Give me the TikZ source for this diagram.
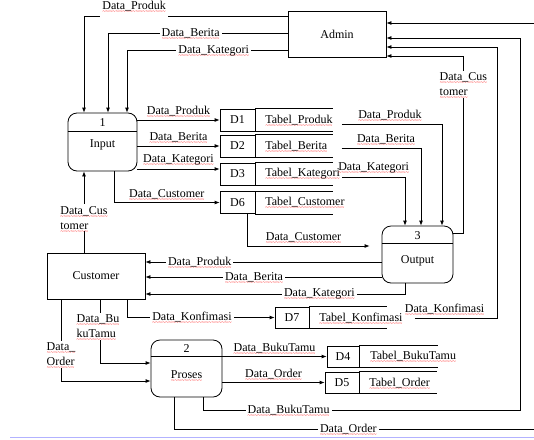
\documentclass[tikz,border=0pt]{standalone}
\usepackage{fontspec}
\setmainfont{Liberation Serif}
\usetikzlibrary{arrows.meta}
\newsavebox\sqbox
\newcommand\sq[1]{\sbox\sqbox{#1}\rlap{\textcolor{red}{\raisebox{-4pt}[0pt][0pt]{\hbox to\wd\sqbox{\fontsize{6}{6}\selectfont\xleaders\hbox{\char"7E}\hfill}}}}\usebox\sqbox}
\begin{document}
\begin{tikzpicture}[x=1pt,y=-1pt,font=\fontsize{12}{15}\selectfont,line width=0.8pt,
    flow/.style={draw,-{Latex[length=5pt,width=4pt]}},
    lbl/.style={fill=white,inner sep=2pt},
    ent/.style={draw,minimum width=98pt,minimum height=46pt},
    proc/.style={draw,rounded corners=9pt,minimum width=71pt,minimum height=57pt},
    dbox/.style={draw,minimum width=35pt,minimum height=22pt,inner sep=0pt},
    tbl/.style={anchor=west,inner sep=2pt}]
    \path[use as bounding box,clip] (0,0) rectangle (534,439);
    % entitas
    \node[ent] (admin) at (337,34) {Admin};
    \node[ent] (customer) at (96,276) {Customer};
    % proses
    \node[proc,minimum width=69pt,minimum height=58pt] (p1) at (102.5,142) {};
    \draw ([yshift=-19pt]p1.north west) -- ([yshift=-19pt]p1.north east);
    \node (n1) at (102.5,123) {1};
    \node (i1) at (102.5,145) {Input};
    \node[proc] (p2) at (186.5,368.5) {};
    \draw ([yshift=-17pt]p2.north west) -- ([yshift=-17pt]p2.north east);
    \node (n2) at (186.5,349) {2};
    \node (i2) at (186.5,375) {\sq{Proses}};
    \node[proc] (p3) at (417.5,254.5) {};
    \draw ([yshift=-18pt]p3.north west) -- ([yshift=-18pt]p3.north east);
    \node (n3) at (417.5,236) {3};
    \node (i3) at (417.5,261) {Output};
    % data store
    \node[dbox] (d1) at (237.5,120) {D1};
    \draw (d1.north east) -- ++(78,0) (d1.south east) -- ++(78,0);
    \node[tbl] (t1) at (263,120) {\sq{Tabel\_Produk}};
    \node[dbox] (d2) at (237.5,146) {D2};
    \draw (d2.north east) -- ++(78,0) (d2.south east) -- ++(78,0);
    \node[tbl] (t2) at (263,146) {\sq{Tabel\_Berita}};
    \node[dbox] (d3) at (237.5,174) {D3};
    \draw (d3.north east) -- ++(78,0) (d3.south east) -- ++(78,0);
    \node[tbl] (t3) at (263,174) {\sq{Tabel\_Kategori}};
    \node[dbox] (d6) at (237.5,202.5) {D6};
    \draw (d6.north east) -- ++(78,0) (d6.south east) -- ++(78,0);
    \node[tbl] (t6) at (263,202.5) {\sq{Tabel\_Customer}};
    \node[dbox,minimum width=34pt,minimum height=21pt] (d7) at (292,317.5) {D7};
    \draw (d7.north east) -- ++(78,0) (d7.south east) -- ++(78,0);
    \node[tbl] (t7) at (317,318) {\sq{Tabel\_Konfimasi}};
    \node[dbox,minimum width=32pt,minimum height=21pt] (d4) at (343,356.5) {D4};
    \draw (d4.north east) -- ++(79,0) (d4.south east) -- ++(79,0);
    \node[tbl] (t4) at (368,356.5) {\sq{Tabel\_BukuTamu}};
    \node[dbox,minimum width=34pt,minimum height=21pt] (d5) at (342,382.5) {D5};
    \draw (d5.north east) -- ++(78,0) (d5.south east) -- ++(78,0);
    \node[tbl] (t5) at (367,383) {\sq{Tabel\_Order}};
    % admin ke input
    \draw[flow] ([yshift=-6pt]admin.north west) -| ([xshift=-18.5pt]p1.north) node[lbl,pos=0.377,yshift=10pt,inner ysep=7pt] {\sq{Data\_Produk}};
    \draw[flow] ([yshift=1pt]admin.west) -| ([xshift=5.5pt]p1.north) node[lbl,pos=0.27] {\sq{Data\_Berita}};
    \draw[flow] ([yshift=7pt]admin.south west) -| ([xshift=24.5pt]p1.north) node[lbl,pos=0.23] {\sq{Data\_Kategori}};
    % input ke data store
    \draw[flow] (p1.east |- d1) -- (d1) node[midway,above] {\sq{Data\_Produk}};
    \draw[flow] (p1.east |- d2) -- (d2) node[midway,above] {\sq{Data\_Berita}};
    \draw[flow] ([yshift=-27pt]p1.east) -- ([yshift=5pt]d3.west) node[midway,above] {\sq{Data\_Kategori}};
    \draw[flow] ([xshift=11.5pt]p1.south) |- (d6) node[pos=0.75,above] {\sq{Data\_Customer}};
    \draw[flow] ([xshift=-12pt]customer.north) -- ([xshift=-18.5pt]p1.south) node[lbl,align=left,pos=0.43] {\sq{Data\_Cus}\\\sq{tomer}};
    % data store ke output
    \draw[flow] ([xshift=7pt,yshift=-4pt]t1.east) -| ([xshift=24.5pt]p3.north) node[pos=0.24,above] {\sq{Data\_Produk}};
    \draw[flow] ([xshift=12pt,yshift=-2pt]t2.east) -| ([xshift=3.5pt]p3.north) node[pos=0.28,above] {\sq{Data\_Berita}};
    \draw[flow] ([yshift=-3pt]t3.east) -| ([xshift=-12.5pt]p3.north) node[pos=0.25,above] {\sq{Data\_Kategori}};
    \draw[flow,shorten >=12pt] ([xshift=9.5pt]d6.south) |- ([yshift=8.5pt]p3.west) node[pos=0.71,above] {\sq{Data\_Customer}};
    % output ke customer dan admin
    \draw[flow] ([yshift=-7.5pt]p3.west) -- ([yshift=14pt]customer.east) node[lbl,pos=0.77] {\sq{Data\_Produk}};
    \draw[flow] ([yshift=-22.5pt]p3.west) -- ([yshift=-1pt]customer.east) node[lbl,pos=0.54] {\sq{Data\_Berita}};
    \draw[flow] ([xshift=-12.5pt]p3.south) |- ([yshift=-18pt]customer.east) node[lbl,pos=0.665] {\sq{Data\_Kategori}};
    \draw[flow] ([yshift=21.5pt]p3.east) -| ([xshift=77pt,yshift=-22pt]admin.east) node[lbl,align=left,pos=0.92] {\sq{Data\_Cus}\\\sq{tomer}} -- ([yshift=-22pt]admin.east);
    % customer ke proses dan konfirmasi
    \draw[flow] ([xshift=31pt]customer.south) |- (d7) node[lbl,pos=0.72] {\sq{Data\_Konfimasi}};
    \draw[flow] ([xshift=4pt]customer.south) |- ([yshift=5.5pt]p2.west) node[lbl,align=left,pos=0.21,xshift=-2pt] {\sq{Data\_Bu}\\\sq{kuTamu}};
    \draw[flow] ([xshift=-35pt]customer.south) |- ([yshift=-12.5pt]p2.west) node[lbl,align=left,pos=0.335] {\sq{Data\_}\\\sq{Order}};
    \draw[flow] ([xshift=10pt]t7.east) -| ([xshift=111pt,yshift=-13pt]admin.east) node[pos=0.18,above] {\sq{Data\_Konfimasi}} -- ([yshift=-13pt]admin.east);
    % proses ke data store dan admin
    \draw[flow] (p2.east |- d4) -- (d4) node[midway,above] {\sq{Data\_BukuTamu}};
    \draw[flow] (p2.east |- d5) -- (d5) node[midway,above] {\sq{Data\_Order}};
    \draw[flow] ([xshift=16.5pt]p2.south) -- ++(0,13) -- ++(317,0) node[lbl,pos=0.27] {\sq{Data\_BukuTamu}} |- ([yshift=-4pt]admin.east);
    \draw[flow] ([xshift=-12.5pt]p2.south) -- ++(0,32) -- ++(371,0) node[lbl,pos=0.47] {\sq{Data\_Order}} |- ([yshift=11pt]admin.east);
    \draw[blue!30,line width=1pt] (10,437.5) -- (534,437.5);
\end{tikzpicture}
\end{document}
